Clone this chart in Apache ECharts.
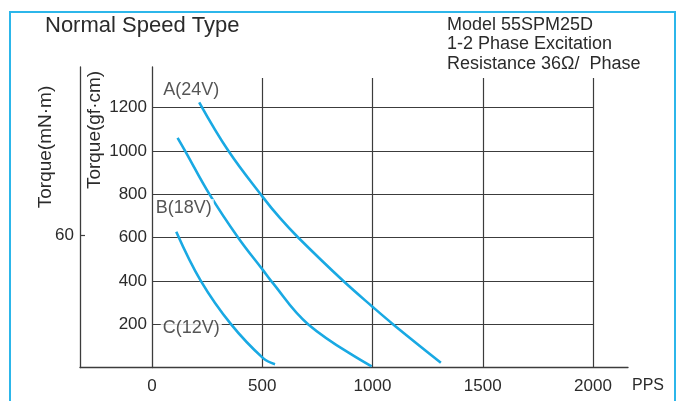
<!DOCTYPE html>
<html>
<head>
<meta charset="utf-8">
<script src="https://cdn.jsdelivr.net/npm/echarts@6/dist/echarts.min.js"></script>
<style>
html,body{margin:0;padding:0;background:#fff;}
#chart{width:677px;height:401px;}
</style>
</head>
<body>
<div id="chart"></div>
<script>
// ---- data ----
const titleText = 'Normal Speed Type';
const infoLines = ['Model 55SPM25D', '1-2 Phase Excitation', 'Resistance 36Ω/  Phase'];
const xTickValues = [0, 500, 1000, 1500, 2000];
const yTickValues = [200, 400, 600, 800, 1000, 1200];
const mNmTickValues = [60];
const seriesNames = ['A(24V)', 'B(18V)', 'C(12V)'];
const curveA = [[214,1224],[347,999],[500,790],[581,689],[664,599],[868,399],[1005,276],[1094,199],[1310,22]];
const curveB = [[116,1060],[150,1000],[261,799],[391,599],[505,447],[539,401],[709,199],[996,5]];
const curveC = [[110,627],[222,399],[359,199],[505,42],[558,15]];
const labelPoints = [[178,1281],[144,736],[178,182]];
const xUnit = 'PPS';
const yNameGf = 'Torque(gf·cm)';
const yNameMn = 'Torque(mN·m)';

// ---- chart ----
const GF_TO_MNM = 0.0980665;
const yMax = 1387;
const ink = '#2b2b2b';
const gridColor = '#3c3c3c';
const curveColor = '#19a9e3';
const font = 'Liberation Sans, Arial, Helvetica, sans-serif';

const chart = echarts.init(document.getElementById('chart'), null, {renderer: 'canvas'});

const curveSeries = [curveA, curveB, curveC].map((d, i) => ({
  name: seriesNames[i],
  type: 'line',
  xAxisIndex: 2, yAxisIndex: 2,
  data: d,
  smooth: 0.4,
  showSymbol: false,
  lineStyle: {color: curveColor, width: 2.6},
  silent: true,
  z: 5
}));

const option = {
  backgroundColor: '#fff',
  animation: false,
  grid: [
    {left: 80, right: 49, top: 67, bottom: 33.5},
    {left: 152, right: 84, top: 78, bottom: 33.5},
    {left: 152, right: 84, top: 67, bottom: 33.5}
  ],
  xAxis: [
    {gridIndex: 0, type: 'value', min: -325, max: 2157,
     axisLine: {show: true, onZero: false, lineStyle: {color: gridColor, width: 1.3}},
     axisTick: {show: false}, axisLabel: {show: false}, splitLine: {show: false}},
    {gridIndex: 1, type: 'value', min: 0, max: 2000, interval: 500,
     axisLine: {show: false}, axisTick: {show: false},
     axisLabel: {show: true, margin: 10, color: ink, fontSize: 17, fontFamily: font,
       formatter: v => (xTickValues.indexOf(v) >= 0 ? String(v) : '')},
     splitLine: {show: true, showMinLine: false, showMaxLine: true, lineStyle: {color: gridColor, width: 1.2}}},
    {gridIndex: 2, type: 'value', min: 0, max: 2000, show: false}
  ],
  yAxis: [
    {gridIndex: 0, type: 'value', min: 0, max: yMax * GF_TO_MNM, position: 'left',
     axisLine: {show: true, onZero: false, lineStyle: {color: gridColor, width: 1.3}},
     axisTick: {show: true, inside: true, length: 5, customValues: mNmTickValues, lineStyle: {color: gridColor, width: 1.2}},
     axisLabel: {show: true, customValues: mNmTickValues, margin: 6, color: ink, fontSize: 17, fontFamily: font},
     splitLine: {show: false}},
    {gridIndex: 1, type: 'value', min: 0, max: 1, show: false},
    {gridIndex: 2, type: 'value', min: 0, max: yMax, interval: 200, position: 'left',
     axisLine: {show: true, onZero: false, lineStyle: {color: gridColor, width: 1.3}},
     axisTick: {show: false},
     axisLabel: {show: true, margin: 5, color: ink, fontSize: 17, fontFamily: font,
       showMinLabel: false, showMaxLabel: false,
       formatter: v => (yTickValues.indexOf(v) >= 0 ? String(v) : '')},
     splitLine: {show: true, showMinLine: false, showMaxLine: false, lineStyle: {color: gridColor, width: 1.2}}}
  ],
  series: curveSeries.concat([{
    type: 'scatter',
    xAxisIndex: 2, yAxisIndex: 2,
    symbolSize: 0,
    silent: true,
    z: 10,
    data: labelPoints.map((p, i) => ({value: p, name: seriesNames[i]})),
    label: {show: true, position: 'inside', formatter: p => p.name,
      color: ink, fontSize: 18, fontFamily: font,
      backgroundColor: '#fff', padding: [0, 2]}
  }]),
  graphic: [
    {type: 'rect', shape: {x: 10, y: 12, width: 665, height: 400},
     style: {fill: 'none', stroke: '#2cb6ea', lineWidth: 2}, z: 0},
    {type: 'text', left: 45, top: 15, style: {text: titleText, fill: ink, font: '22px ' + font}},
    {type: 'text', left: 447, top: 15, style: {text: infoLines.join('\n'), fill: ink, font: '18px ' + font, lineHeight: 19.5}},
    {type: 'text', x: 46, y: 147, rotation: Math.PI / 2,
     style: {text: yNameMn, fill: ink, font: '19px ' + font, align: 'center', verticalAlign: 'middle'}},
    {type: 'text', x: 95, y: 130, rotation: Math.PI / 2,
     style: {text: yNameGf, fill: ink, font: '19px ' + font, align: 'center', verticalAlign: 'middle'}},
    {type: 'text', x: 632, y: 386,
     style: {text: xUnit, fill: ink, font: '16px ' + font, align: 'left', verticalAlign: 'middle'}}
  ]
};
chart.setOption(option);
</script>
</body>
</html>
